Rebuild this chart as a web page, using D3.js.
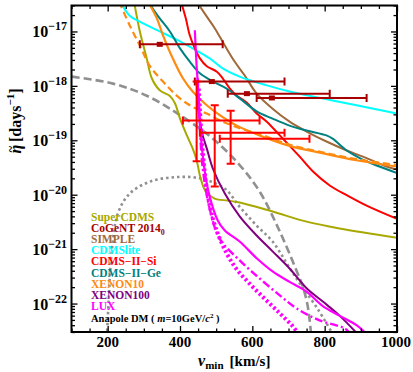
<!DOCTYPE html>
<html>
<head>
<meta charset="utf-8">
<script src="https://cdn.jsdelivr.net/npm/d3@7"></script>
<style>
  body { margin: 0; background: #fff; }
  text { font-family: "Liberation Serif", "DejaVu Serif", serif; font-weight: bold; white-space: pre; }
</style>
</head>
<body>
<div id="chart"></div>
<script>
// ---- data ----
const xMajor = [200, 400, 600, 800, 1000];
const yMajorExp = [-22, -21, -20, -19, -18, -17];

// anapole DM halo curves (gray)
const grayDashV = [101, 215, 308, 400, 491, 565, 620, 676, 723, 739, 753, 763];
const grayDashEta = [1.48e-18, 1.1e-18, 6.6e-19, 2.9e-19, 1.07e-19, 3.5e-20, 1.15e-20, 2.1e-21, 3.9e-22, 2.1e-22, 9.1e-23, 2.5e-23];
const grayDotV = [198, 203, 212, 228, 261, 317, 386, 455, 524, 565, 612, 656, 704, 736, 780, 826];
const grayDotEta = [2.5e-23, 1.23e-22, 1.02e-21, 4.5e-21, 1.05e-20, 1.74e-20, 2.1e-20, 2.0e-20, 1.29e-20, 6.0e-21, 2.7e-21, 1.38e-21, 4.4e-22, 2.1e-22, 8.1e-23, 2.5e-23];

// upper limits
const superV = [273, 289, 308, 322, 344, 372, 386, 400, 419, 435, 446, 457, 471, 496, 532, 565, 656, 750, 841, 1000];
const superEta = [3.5e-17, 1.0e-17, 3.2e-18, 1.38e-18, 8.3e-19, 6.5e-19, 4.8e-19, 2.5e-19, 1.23e-19, 7.1e-20, 4.3e-20, 2.0e-20, 1.15e-20, 8.5e-21, 7.8e-21, 7.2e-21, 4.9e-21, 3.2e-21, 2.4e-21, 1.62e-21];
const simpleV = [447, 469, 496, 524, 551, 579, 612, 656, 703, 750, 805, 861, 916, 971, 1000];
const simpleEta = [3.5e-17, 2.1e-17, 1.15e-17, 5.5e-18, 2.8e-18, 1.55e-18, 7.2e-19, 3.8e-19, 2.2e-19, 1.45e-19, 9.5e-20, 6.5e-20, 4.7e-20, 3.3e-20, 2.9e-20];
const liteV = [235, 261, 289, 344, 400, 435, 482, 518, 565, 640, 703, 794, 888, 1000];
const liteEta = [3.5e-17, 1.95e-17, 1.51e-17, 1.0e-17, 6.6e-18, 4.9e-18, 3.2e-18, 2.1e-18, 1.48e-18, 1.02e-18, 7.9e-19, 5.9e-19, 4.4e-19, 3.1e-19];
const siV = [403, 416, 427, 441, 455, 474, 502, 518, 538, 557, 585, 612, 640, 676, 703, 731, 767, 814, 861, 916, 1000];
const siEta = [3.5e-17, 1.74e-17, 8.5e-18, 4.9e-18, 3.2e-18, 2.3e-18, 1.82e-18, 1.38e-18, 8.9e-19, 6.6e-19, 4.9e-19, 3.1e-19, 2.2e-19, 1.23e-19, 7.9e-20, 5.0e-20, 2.7e-20, 1.48e-20, 9.8e-21, 6.3e-21, 3.6e-21];
const geV = [315, 325, 344, 372, 400, 427, 455, 491, 529, 565, 612, 656, 703, 750, 805, 822, 861, 897, 932, 1000];
const geEta = [3.5e-17, 2.6e-17, 1.74e-17, 1.0e-17, 4.9e-18, 2.8e-18, 1.7e-18, 1.2e-18, 8.9e-19, 5.9e-19, 3.4e-19, 2.5e-19, 1.86e-19, 1.51e-19, 1.23e-19, 1.07e-19, 6.5e-20, 4.7e-20, 3.7e-20, 2.5e-20];
const xe10V = [312, 336, 353, 380, 408, 435, 474, 510, 557, 620, 703, 794, 888, 1000];
const xe10Eta = [3.5e-17, 1.74e-17, 8.5e-18, 3.2e-18, 1.38e-18, 7.9e-19, 4.4e-19, 2.9e-19, 1.86e-19, 1.23e-19, 7.9e-20, 5.8e-20, 4.3e-20, 3.3e-20];
const xe10bV = [232, 261, 289, 317, 353, 391, 427, 474, 518, 585, 620, 703, 794, 888, 1000];
const xe10bEta = [3.5e-17, 1.29e-17, 5.5e-18, 2.3e-18, 1.2e-18, 6.6e-19, 4.4e-19, 3.1e-19, 2.2e-19, 1.51e-19, 1.29e-19, 8.3e-20, 6.0e-20, 4.5e-20, 3.5e-20];
const xe100V = [446, 460, 474, 491, 524, 565, 612, 656, 703, 750, 794, 841, 890];
const xe100Eta = [7.2e-19, 1.45e-19, 7.1e-20, 3.0e-20, 1.05e-20, 4.0e-21, 1.78e-21, 9.1e-22, 4.4e-22, 1.91e-22, 1.1e-22, 6.0e-23, 2.8e-23];
const luxV = [441, 446, 452, 457, 466, 480, 504, 524, 565, 612, 656, 703, 750, 794, 841, 888, 915];
const luxEta = [1.05e-17, 2.3e-18, 5.9e-19, 1.45e-19, 3.5e-20, 1.05e-20, 3.4e-21, 2.2e-21, 1.38e-21, 6.8e-22, 3.9e-22, 2.5e-22, 1.66e-22, 9.1e-23, 6.0e-23, 4.0e-23, 2.8e-23];
const luxDdV = [449, 455, 463, 482, 510, 565, 620, 676, 723, 786, 855, 870];
const luxDdEta = [1.38e-18, 1.66e-19, 3.0e-20, 5.6e-21, 1.55e-21, 6.2e-22, 2.9e-22, 1.41e-22, 8.1e-23, 4.9e-23, 3.5e-23, 2.8e-23];
const luxDotV = [452, 460, 474, 491, 516, 551, 593, 634, 676, 709, 728];
const luxDotEta = [8.9e-19, 1.07e-19, 1.29e-20, 3.6e-21, 1.26e-21, 4.8e-22, 2.3e-22, 1.23e-22, 6.6e-23, 4.0e-23, 2.8e-23];

// CoGeNT 2014 points: v, v range, eta
const cogentV = [344, 488, 585, 654];
const cogentLo = [289, 441, 532, 612];
const cogentHi = [518, 689, 814, 916];
const cogentEta = [5.8e-18, 1.2e-18, 7.2e-19, 6.0e-19];

// CDMS-II-Si crosses
const siPtV = [446, 496, 540];
const siPtVlo = [408, 455, 510];
const siPtVhi = [620, 689, 758];
const siPtEta = [2.3e-19, 1.38e-19, 1.07e-19];
const siPtEtaLo = [4.1e-20, 1.41e-20, 3.7e-20];
const siPtEtaHi = [1.2e-18, 4.4e-19, 3.5e-19];

const legendNames = ["SuperCDMS", "CoGeNT 2014", "SIMPLE", "CDMSlite", "CDMS\u2212II\u2212Si", "CDMS\u2212II\u2212Ge", "XENON10", "XENON100", "LUX"];
const legendColors = ["#a8a800", "#a80000", "#a0693a", "#00ffff", "#ff0000", "#008080", "#ff8a10", "#800080", "#ff00ff"];

// ---- layout ----
const width = 413, height = 372;
const pL = 71.5, pR = 397, pT = 5.5, pB = 332;

const svg = d3.select("#chart").append("svg")
  .attr("width", width).attr("height", height);

const x = d3.scaleLinear().domain([100, 1000]).range([pL, pR]);
const y = d3.scaleLog().domain([3e-23, 3e-17]).range([pB, pT]);

svg.append("clipPath").attr("id", "clip")
  .append("rect").attr("x", pL).attr("y", pT)
  .attr("width", pR - pL).attr("height", pB - pT);

const plot = svg.append("g").attr("clip-path", "url(#clip)");

const line = d3.line()
  .x(d => x(d[0])).y(d => y(d[1]))
  .curve(d3.curveCatmullRom.alpha(0.5));

function curve(vs, etas, color, w, dash) {
  plot.append("path")
    .datum(vs.map((v, i) => [v, etas[i]]))
    .attr("fill", "none")
    .attr("stroke", color)
    .attr("stroke-width", w)
    .attr("stroke-dasharray", dash || null)
    .attr("d", line);
}

curve(grayDashV, grayDashEta, "#909090", 2.6, "8,4");
curve(grayDotV, grayDotEta, "#909090", 2.6, "2.5,3");
curve(superV, superEta, legendColors[0], 2);
curve(simpleV, simpleEta, legendColors[2], 2);
curve(liteV, liteEta, legendColors[3], 2);
curve(siV, siEta, legendColors[4], 2);
curve(geV, geEta, legendColors[5], 2);
curve(xe10V, xe10Eta, legendColors[6], 2.2);
curve(xe10bV, xe10bEta, legendColors[6], 2.2, "7,4");
curve(xe100V, xe100Eta, legendColors[7], 2);
curve(luxV, luxEta, legendColors[8], 2.2);
curve(luxDdV, luxDdEta, legendColors[8], 2.4, "8,3,2,3");
curve(luxDotV, luxDotEta, legendColors[8], 4, "2.5,2.5");

// CoGeNT horizontal bars
const cap = 4;
cogentV.forEach((v, i) => {
  const g = plot.append("g").attr("stroke", legendColors[1]).attr("stroke-width", 2);
  const yy = y(cogentEta[i]);
  g.append("line").attr("x1", x(cogentLo[i])).attr("x2", x(cogentHi[i])).attr("y1", yy).attr("y2", yy);
  g.append("line").attr("x1", x(cogentLo[i])).attr("x2", x(cogentLo[i])).attr("y1", yy - cap).attr("y2", yy + cap);
  g.append("line").attr("x1", x(cogentHi[i])).attr("x2", x(cogentHi[i])).attr("y1", yy - cap).attr("y2", yy + cap);
  plot.append("rect").attr("x", x(v) - 3).attr("y", yy - 2.5).attr("width", 6).attr("height", 5)
    .attr("fill", legendColors[1]);
});

// CDMS-II-Si crosses
siPtV.forEach((v, i) => {
  const g = plot.append("g").attr("stroke", legendColors[4]).attr("stroke-width", 2);
  const yy = y(siPtEta[i]), xx = x(v);
  g.append("line").attr("x1", x(siPtVlo[i])).attr("x2", x(siPtVhi[i])).attr("y1", yy).attr("y2", yy);
  g.append("line").attr("x1", x(siPtVlo[i])).attr("x2", x(siPtVlo[i])).attr("y1", yy - cap).attr("y2", yy + cap);
  g.append("line").attr("x1", x(siPtVhi[i])).attr("x2", x(siPtVhi[i])).attr("y1", yy - cap).attr("y2", yy + cap);
  g.append("line").attr("x1", xx).attr("x2", xx).attr("y1", y(siPtEtaLo[i])).attr("y2", y(siPtEtaHi[i]));
  g.append("line").attr("x1", xx - cap).attr("x2", xx + cap).attr("y1", y(siPtEtaLo[i])).attr("y2", y(siPtEtaLo[i]));
  g.append("line").attr("x1", xx - cap).attr("x2", xx + cap).attr("y1", y(siPtEtaHi[i])).attr("y2", y(siPtEtaHi[i]));
});

// ---- axes ----
const xMinor = d3.range(100, 1001, 50).filter(v => !xMajor.includes(v));
const yMajor = yMajorExp.map(e => Math.pow(10, e));
const yMinor = [];
[-23, -22, -21, -20, -19, -18, -17].forEach(e => {
  for (let k = 2; k <= 9; k++) {
    const val = k * Math.pow(10, e);
    if (val >= 3e-23 && val <= 3e-17) yMinor.push(val);
  }
});

function addAxis(gen, tr, vals, size) {
  svg.append("g").attr("transform", tr)
    .call(gen.tickValues(vals).tickSize(size).tickFormat(""))
    .call(g => g.select(".domain").remove())
    .selectAll("line").attr("stroke", "#000").attr("stroke-width", 1.3);
}
addAxis(d3.axisBottom(x), `translate(0,${pB})`, xMajor, -6);
addAxis(d3.axisBottom(x), `translate(0,${pB})`, xMinor, -3.5);
addAxis(d3.axisTop(x), `translate(0,${pT})`, xMajor, -6);
addAxis(d3.axisTop(x), `translate(0,${pT})`, xMinor, -3.5);
addAxis(d3.axisLeft(y), `translate(${pL},0)`, yMajor, -6);
addAxis(d3.axisLeft(y), `translate(${pL},0)`, yMinor, -3.5);
addAxis(d3.axisRight(y), `translate(${pR},0)`, yMajor, -6);
addAxis(d3.axisRight(y), `translate(${pR},0)`, yMinor, -3.5);

svg.append("rect").attr("x", pL).attr("y", pT)
  .attr("width", pR - pL).attr("height", pB - pT)
  .attr("fill", "none").attr("stroke", "#000").attr("stroke-width", 2);

// x tick labels
svg.selectAll(".xl").data(xMajor).enter().append("text")
  .attr("x", d => x(d) + (d === 1000 ? -1 : 0)).attr("y", pB + 15)
  .attr("text-anchor", "middle").attr("font-size", 15)
  .text(d => d);

// y tick labels: 10^n
yMajorExp.forEach(e => {
  const t = svg.append("text").attr("y", y(Math.pow(10, e)) + 6)
    .attr("x", 67).attr("text-anchor", "end").attr("font-size", 16);
  t.append("tspan").text("10");
  t.append("tspan").attr("font-size", 12).attr("dy", -7).text("\u2212" + Math.abs(e));
});

// axis titles
const xt = svg.append("text").attr("x", (pL + pR) / 2).attr("y", 366)
  .attr("text-anchor", "middle").attr("font-size", 15);
xt.append("tspan").attr("font-style", "italic").attr("font-size", 16).text("v");
xt.append("tspan").attr("font-size", 11).attr("dy", 3).text("min");
xt.append("tspan").attr("dy", -3).attr("dx", 6).text("[km/s]");

const yt = svg.append("text").attr("transform", "translate(21,121) rotate(-90)")
  .attr("text-anchor", "middle").attr("font-size", 16);
yt.append("tspan").attr("font-style", "italic").text("\u03b7");
yt.append("tspan").attr("font-size", 12).attr("dx", -7.5).attr("dy", -6.5).text("~");
yt.append("tspan").attr("dy", 6.5).attr("dx", 4).text("[days");
yt.append("tspan").attr("font-size", 11).attr("dy", -7).text("\u22121");
yt.append("tspan").attr("dy", 7).text("]");

// legend
const lg = svg.append("g");
legendNames.forEach((n, i) => {
  const t = lg.append("text").attr("x", 91).attr("y", 221 + i * 11.1)
    .attr("font-size", 11.5).attr("fill", legendColors[i]).text(n);
  if (i === 1) t.append("tspan").attr("font-size", 8).attr("dy", 3).text("0");
});
const an = lg.append("text").attr("x", 91).attr("y", 221 + 9 * 11.1 + 1)
  .attr("font-size", 10.5).attr("fill", "#000");
an.append("tspan").text("Anapole DM ( ");
an.append("tspan").attr("font-style", "italic").text("m");
an.append("tspan").text("=10GeV/");
an.append("tspan").attr("font-style", "italic").text("c");
an.append("tspan").attr("font-size", 7).attr("dy", -4).text("2");
an.append("tspan").attr("dy", 4).text(" )");
</script>
</body>
</html>
